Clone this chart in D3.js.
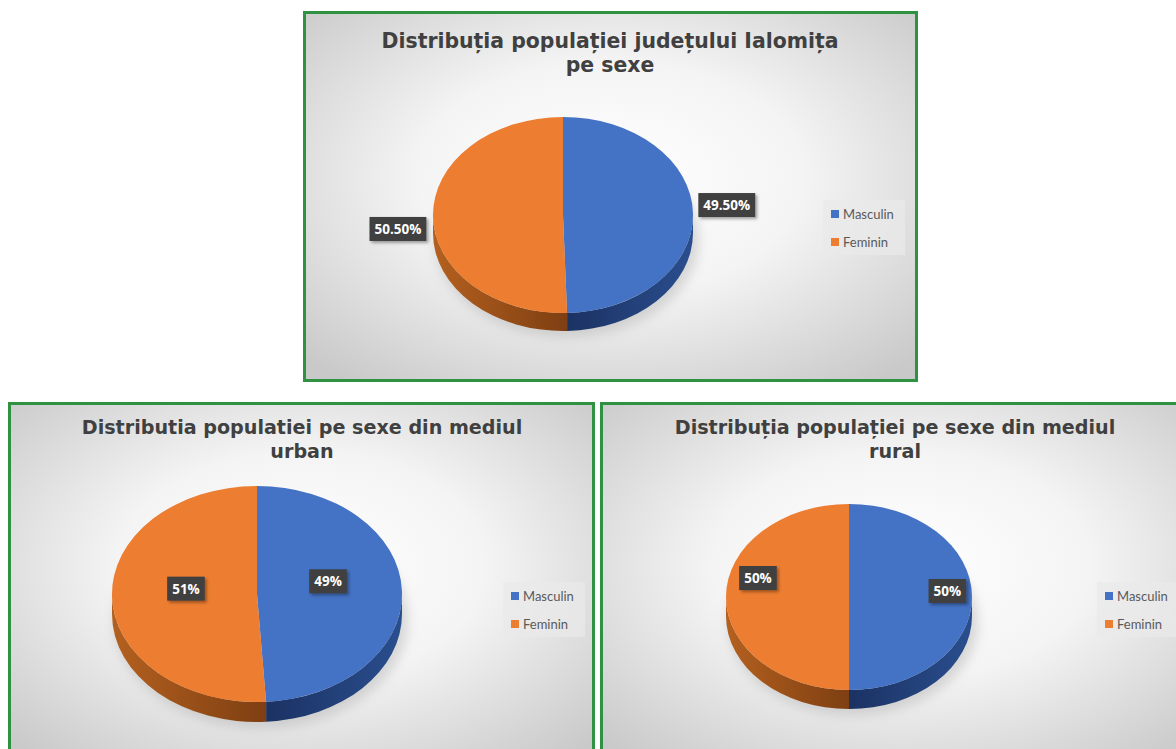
<!DOCTYPE html>
<html><head><meta charset="utf-8">
<script src="https://cdn.jsdelivr.net/npm/d3@7"></script>
<style>html,body{margin:0;padding:0;background:#fff;overflow:hidden}svg{display:block}</style>
</head><body>
<svg id="c" width="1176" height="749"></svg>
<script>
// ---- data ----
const categories = ["Masculin", "Feminin"];
const valuesJudet = [49.5, 50.5];
const valuesUrban = [49, 51];
const valuesRural = [50, 50];
const titleJudet = ["Distribuția populației județului Ialomița", "pe sexe"];
const titleUrban = ["Distributia populatiei pe sexe din mediul", "urban"];
const titleRural = ["Distribuția populației pe sexe din mediul", "rural"];

const colors = d3.scaleOrdinal().domain(categories).range(["#4472C4", "#ED7D31"]);
const sideColors = {Masculin: ["#2A4E8E", "#1B3263"], Feminin: ["#B4601F", "#7E3F12"]};

const panels = [
  {values: valuesJudet, title: titleJudet, fmt: v => d3.format(".2f")(v) + "%",
   x: 304.5, y: 12.5, w: 612, h: 368, cx: 563, cy: 215, rx: 130, ry: 98, depth: 18,
   tx: 610, ty: 48, tw: 457, lx: 823, ly: 200, labelR: [1.26, 1.27], labelDy: [-8, 12]},
  {values: valuesUrban, title: titleUrban, fmt: v => d3.format(".0f")(v) + "%",
   x: 9.5, y: 403.5, w: 584, h: 360, cx: 257, cy: 594, rx: 145, ry: 108, depth: 20,
   tx: 302, ty: 434, tw: 441, lx: 503, ly: 582, labelR: [0.49, 0.49], labelDy: [-11, -7]},
  {values: valuesRural, title: titleRural, fmt: v => d3.format(".0f")(v) + "%",
   x: 601.5, y: 403.5, w: 600, h: 360, cx: 849, cy: 597, rx: 123, ry: 93, depth: 19,
   tx: 895, ty: 434, tw: 441, lx: 1097, ly: 582, labelR: [0.8, 0.74], labelDy: [-6, -19]}
];

const svg = d3.select("#c");
const defs = svg.append("defs");
const bg = defs.append("radialGradient").attr("id", "bg").attr("cx", "50%").attr("cy", "45%").attr("r", "70%");
bg.append("stop").attr("offset", "0%").attr("stop-color", "#ffffff");
bg.append("stop").attr("offset", "45%").attr("stop-color", "#f4f4f4");
bg.append("stop").attr("offset", "100%").attr("stop-color", "#c9c9c9");
categories.forEach(c => {
  const g = defs.append("linearGradient").attr("id", "side-" + c).attr("x1", "0%").attr("x2", "100%");
  const s = sideColors[c];
  if (c === "Feminin") {
    g.append("stop").attr("offset", "0%").attr("stop-color", s[0]);
    g.append("stop").attr("offset", "100%").attr("stop-color", s[1]);
  } else {
    g.append("stop").attr("offset", "0%").attr("stop-color", s[1]);
    g.append("stop").attr("offset", "100%").attr("stop-color", s[0]);
  }
});
const f = defs.append("filter").attr("id", "shadow").attr("x", "-20%").attr("y", "-30%").attr("width", "150%").attr("height", "170%");
f.append("feDropShadow").attr("dx", 2).attr("dy", 2).attr("stdDeviation", 1.5).attr("flood-color", "#000").attr("flood-opacity", 0.35);
const fb = defs.append("filter").attr("id", "blur").attr("x", "-20%").attr("y", "-20%").attr("width", "140%").attr("height", "140%");
fb.append("feGaussianBlur").attr("stdDeviation", 6);

const pie = d3.pie().sort(null).value(d => d.v);

panels.forEach(p => {
  const g = svg.append("g");
  g.append("rect").attr("x", p.x).attr("y", p.y).attr("width", p.w).attr("height", p.h)
    .attr("fill", "url(#bg)").attr("stroke", "#2F9142").attr("stroke-width", 3);

  // title
  const tt = g.append("text").attr("text-anchor", "middle")
    .attr("font-family", "DejaVu Sans").attr("font-weight", "bold").attr("font-size", 19).attr("fill", "#404040");
  tt.append("tspan").attr("x", p.tx).attr("y", p.ty).text(p.title[0]);
  const t1 = tt.node().getComputedTextLength();
  const fs = 19 * p.tw / t1;
  tt.attr("font-size", fs);
  tt.append("tspan").attr("x", p.tx).attr("y", p.ty + 24).text(p.title[1]);

  const {cx, cy, rx, ry, depth} = p;
  const pt = (a, dy = 0) => [cx + rx * Math.sin(a), cy - ry * Math.cos(a) + dy];
  const data = pie(categories.map((c, i) => ({c, v: p.values[i]})));

  // soft shadow
  g.append("ellipse").attr("cx", cx + 4).attr("cy", cy + depth + 6).attr("rx", rx + 2).attr("ry", ry)
    .attr("fill", "#9a9a9a").attr("opacity", 0.35).attr("filter", "url(#blur)");

  // sides
  data.forEach(d => {
    const s = Math.max(d.startAngle, Math.PI / 2), e = Math.min(d.endAngle, 3 * Math.PI / 2);
    if (s >= e) return;
    const A = pt(s), B = pt(e), B2 = pt(e, depth), A2 = pt(s, depth);
    const path = `M${A}A${rx},${ry} 0 0 1 ${B}L${B2}A${rx},${ry} 0 0 0 ${A2}Z`;
    g.append("path").attr("d", path).attr("fill", `url(#side-${d.data.c})`);
  });
  // tops
  data.forEach(d => {
    const A = pt(d.startAngle), B = pt(d.endAngle);
    const large = d.endAngle - d.startAngle > Math.PI ? 1 : 0;
    g.append("path").attr("d", `M${cx},${cy}L${A}A${rx},${ry} 0 ${large} 1 ${B}Z`)
      .attr("fill", colors(d.data.c));
  });

  // labels
  data.forEach((d, i) => {
    const m = (d.startAngle + d.endAngle) / 2;
    const k = p.labelR[i];
    const lx = cx + rx * k * Math.sin(m), ly = cy - ry * k * Math.cos(m) + p.labelDy[i];
    const lg = g.append("g");
    const t = lg.append("text").attr("x", lx).attr("y", ly + 5).attr("text-anchor", "middle")
      .attr("font-family", "Open Sans").attr("font-weight", "bold").attr("font-size", 13.5).attr("fill", "#fff")
      .text(p.fmt(d.data.v));
    const bb = t.node().getBBox();
    lg.insert("rect", "text").attr("x", bb.x - 5).attr("y", ly - 12).attr("width", bb.width + 10).attr("height", 24)
      .attr("fill", "#404040").attr("filter", "url(#shadow)");
  });

  // legend
  const lgd = g.append("g").attr("transform", `translate(${p.lx},${p.ly})`);
  lgd.append("rect").attr("width", 82).attr("height", 55).attr("fill", "#e9e9e9").attr("opacity", 0.7);
  categories.forEach((c, i) => {
    const yy = 14 + i * 28;
    lgd.append("rect").attr("x", 8).attr("y", yy - 4).attr("width", 8).attr("height", 8).attr("fill", colors(c));
    lgd.append("text").attr("x", 20).attr("y", yy + 4.5).attr("font-family", "Lato").attr("font-size", 13)
      .attr("fill", "#595959").text(c);
  });
});
</script>
</body></html>
